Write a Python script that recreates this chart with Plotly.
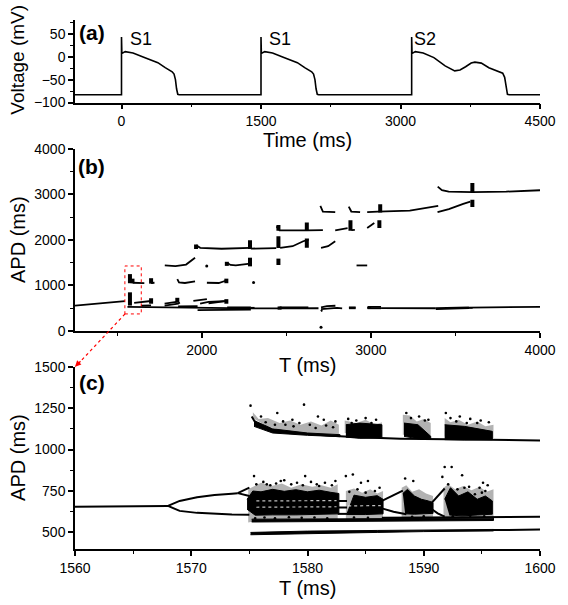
import plotly.graph_objects as go

W, H = 568, 605
ML, MR, MT, MB = 75, 19, 15, 56
PW, PH = W - ML - MR, H - MT - MB
FONT = "Liberation Sans, Arial, sans-serif"

# ---------------- Panel (a): action potential trace ----------------
a_time = [-500, 0, 0, 4, 40, 124, 239, 391, 470, 506, 545, 565, 580, 592, 605, 620,
          1500, 1500, 1504, 1540, 1624, 1739, 1891, 1970, 2006, 2045, 2065, 2080, 2092, 2105, 2120,
          3120, 3120, 3124, 3160, 3244, 3359, 3480, 3583, 3640, 3700, 3760, 3800, 3869, 3950,
          4040, 4099, 4120, 4135, 4150, 4170, 4500]
a_volt = [-83, -83, 43, 7, 11, 8, -1, -13, -24, -28, -33, -38, -50, -70, -82, -83,
          -83, 43, 7, 11, 8, -1, -13, -24, -28, -33, -38, -50, -70, -82, -83,
          -83, 43, 7, 11, 8, -2, -20, -31, -29, -22, -14, -12, -14, -24,
          -31, -36, -45, -70, -82, -83, -83]
a_labels = ["S1", "S1", "S2"]
a_label_t = [205, 1700, 3265]
a_label_v = [39, 39, 39]

# ---------------- Panel (b): APD vs T ----------------
b_seg_T = [
    [1250, 1400, 1545],
    [1560, 1650, 1780, 1860, 1975, 2150, 2290, 2460, 2630, 2690],
    [1640, 1700],
    [1780, 1860, 1870],
    [1860, 1975],
    [1975, 2150, 2290],
    [1990, 2040, 2100, 2150],
    [2150, 2290],
    [2460, 2630],
    [2705, 2740, 2790],
    [2705, 2760, 2800, 2830],
    [2705, 2712],
    [2870, 2910], [2870, 2910],
    [2980, 3060], [2980, 3060],
    [3060, 3384],
    [3384, 3580], [3384, 3580],
    [3580, 4000],
    [1600, 1660, 1700],
    [1780, 1850],
    [1950, 2030],
    [2040, 2130],
    [1590, 1660],
    [1700, 1720],
    [1855, 1865, 1900, 1960],
    [2030, 2100, 2145],
    [1781, 1844, 1907, 1960],
    [2148, 2170, 2201, 2285],
    [2915, 2978],
    [1966, 1991, 2117, 2285],
    [2290, 2440],
    [2463, 2537, 2600, 2632],
    [2705, 2747, 2789],
    [2442, 2460, 2621, 2716],
    [2789, 2862],
    [2885, 2905],
    [2978, 3020],
    [2701, 2716, 2789],
    [2869, 2884, 2936],
    [2978, 3041, 3230, 3398],
    [3394, 3461, 3546, 3588],
    [3395, 3420, 3460, 3600, 3800, 4000],
]
b_seg_APD = [
    [560, 605, 655],
    [530, 525, 510, 505, 500, 500, 498, 497, 497, 500],
    [560, 565],
    [560, 600, 625],
    [540, 545],
    [460, 462, 470],
    [600, 640, 650, 660],
    [520, 520],
    [520, 520],
    [520, 545, 555],
    [480, 500, 510, 500],
    [470, 430],
    [520, 520], [500, 500],
    [530, 530], [500, 500],
    [505, 500],
    [480, 505], [500, 520],
    [515, 530],
    [620, 640, 660],
    [600, 640],
    [660, 700],
    [610, 650],
    [1060, 1050],
    [1055, 1060],
    [1140, 1070, 1055, 1090],
    [1060, 1055, 1110],
    [1440, 1425, 1460, 1610],
    [1500, 1450, 1440, 1480],
    [1440, 1440],
    [1880, 1826, 1806, 1826],
    [1810, 1820],
    [1826, 1862, 1971, 2007],
    [1826, 1862, 1971],
    [2297, 2210, 2210, 2215],
    [2210, 2260],
    [2215, 2220],
    [2261, 2370],
    [2746, 2623, 2609],
    [2732, 2623, 2609],
    [2609, 2623, 2645, 2746],
    [2609, 2674, 2790, 2840],
    [3170, 3090, 3060, 3050, 3060, 3090],
]
b_cl_T = [1575, 1590, 1575, 1700, 1700, 1855, 2145, 2145, 2148, 2285, 2453, 1966, 2285, 2453,
          2621, 2453, 2621, 2879, 3050, 3055, 3600, 3600, 2300, 2460, 2990, 3590]
b_cl_lo = [560, 1050, 1050, 600, 1040, 620, 600, 1050, 1430, 1420, 1450, 1800, 1800, 1820,
           1830, 2200, 2200, 2200, 2260, 2600, 2720, 3050, 490, 470, 490, 490]
b_cl_hi = [850, 1150, 1250, 720, 1160, 730, 700, 1150, 1520, 1610, 1590, 1900, 1990, 2080,
           2030, 2330, 2380, 2430, 2430, 2780, 2880, 3250, 530, 540, 530, 520]
b_dot_T = [2029, 2306, 2705]
b_dot_APD = [1430, 1065, 85]

# ---------------- Panel (c): zoom of bifurcation ----------------
c_seg_T = [
    [1560, 1564, 1568],
    [1568, 1568.5, 1569, 1570.5, 1572, 1573.5, 1574],
    [1574, 1574.5, 1575],
    [1574, 1574.5, 1575],
    [1568, 1568.5, 1569, 1570.5, 1572, 1573.5, 1575],
    [1575.2, 1575.5, 1576, 1577, 1578, 1580, 1582, 1584, 1586, 1588, 1592, 1596, 1600],
    [1586.4, 1587.3, 1588.2],
    [1586.4, 1587.4, 1588.5],
    [1590.7, 1591.2, 1591.8],
    [1590.7, 1591.2, 1591.8],
    [1586.4, 1590, 1596, 1600],
    [1595.9, 1600],
    [1582.6, 1583.4], [1582.6, 1583.4], [1582.6, 1583.4],
]
c_seg_APD = [
    [655, 657, 660],
    [660, 675, 690, 712, 726, 734, 737],
    [737, 752, 770],
    [737, 727, 720],
    [660, 645, 630, 618, 611, 608, 606],
    [1200, 1165, 1140, 1118, 1105, 1092, 1083, 1076, 1070, 1066, 1062, 1060, 1055],
    [690, 720, 752],
    [645, 625, 610],
    [680, 720, 765],
    [640, 615, 595],
    [588, 590, 593, 595],
    [514, 517],
    [690, 690], [650, 650], [612, 612],
]
# light streaks seen inside the dense chaotic band
c_streak_T = [[1575.6, 1582.5], [1575.6, 1582.5], [1583.5, 1586.3]]
c_streak_APD = [[690, 692], [652, 655], [660, 662]]

# dense (solid) parts of the chaotic bands
c_core_T = [
    [1574.8, 1575.3, 1576, 1577, 1578, 1579, 1580, 1581, 1582, 1582.7,
     1582.7, 1581, 1579, 1577, 1575.5, 1574.8],
    [1583.4, 1584, 1585, 1586, 1586.5, 1586.5, 1585, 1584, 1583.4],
    [1588.2, 1588.6, 1589.2, 1589.8, 1590.4, 1590.8, 1590.8, 1590, 1589.2, 1588.4],
    [1591.8, 1592.3, 1593, 1593.8, 1594.6, 1595.3, 1595.9, 1595.9, 1594.6, 1593.3, 1592.2],
    [1575.2, 1580, 1586.5, 1590, 1596, 1596, 1590, 1586.5, 1580, 1575.2],
    [1575.1, 1580, 1586, 1590, 1596, 1596, 1590, 1586, 1580, 1575.1],
    [1575.4, 1577, 1580, 1582.8, 1582.8, 1580, 1577, 1575.4],
    [1583.3, 1584.5, 1586.4, 1586.4, 1584.5, 1583.3],
    [1588.3, 1589.5, 1590.6, 1590.6, 1589.5, 1588.3],
    [1591.8, 1593.5, 1595.9, 1595.9, 1593.5, 1591.8],
]
c_core_APD = [
    [700, 750, 745, 760, 748, 758, 745, 755, 742, 735,
     612, 608, 606, 606, 604, 640],
    [612, 725, 712, 722, 700, 612, 608, 608, 608],
    [735, 760, 720, 700, 690, 680, 615, 612, 610, 612],
    [700, 770, 720, 745, 700, 720, 690, 610, 605, 600, 605],
    [563, 566, 568, 570, 572, 586, 584, 582, 580, 580],
    [486, 494, 500, 505, 509, 518, 516, 512, 508, 500],
    [1175, 1125, 1100, 1090, 1078, 1086, 1100, 1140],
    [1150, 1160, 1150, 1070, 1068, 1075],
    [1160, 1150, 1080, 1065, 1065, 1080],
    [1150, 1140, 1110, 1060, 1058, 1060],
]
# speckled fringe around the dense parts (irregular outlines)
c_fringe_T = [
    [1574.9, 1576, 1577, 1578, 1579, 1580, 1581, 1582.6,
     1582.6, 1582, 1581.2, 1580.4, 1579.5, 1578.6, 1577.8, 1576.9, 1576, 1575.3, 1574.9],
    [1583.3, 1585, 1586.5, 1586.5, 1586, 1585.4, 1584.7, 1584, 1583.3],
    [1588.1, 1589.5, 1590.8, 1590.8, 1590.2, 1589.6, 1589, 1588.5, 1588.1],
    [1591.7, 1593.5, 1596, 1596, 1595.4, 1594.8, 1594.1, 1593.4, 1592.7, 1592.1, 1591.7],
    [1575.3, 1576.5, 1578, 1579.5, 1581, 1582.7, 1582.7, 1582, 1581.2, 1580.3, 1579.4,
     1578.5, 1577.6, 1576.6, 1575.8, 1575.3],
    [1583.2, 1586.4, 1586.4, 1585.8, 1585, 1584.2, 1583.2],
    [1588.2, 1590.6, 1590.6, 1590, 1589.4, 1588.8, 1588.2],
    [1591.8, 1596, 1596, 1595.3, 1594.6, 1593.8, 1593, 1592.3, 1591.8],
]
c_fringe_APD = [
    [560, 575, 568, 574, 569, 572, 568, 575,
     790, 770, 785, 775, 790, 770, 795, 780, 800, 775, 760],
    [572, 575, 578, 750, 735, 760, 740, 765, 750],
    [578, 590, 595, 720, 735, 760, 745, 785, 770],
    [580, 585, 590, 760, 745, 775, 755, 780, 760, 790, 770],
    [1190, 1140, 1110, 1098, 1088, 1082, 1150, 1175, 1145, 1170, 1150,
     1175, 1160, 1190, 1185, 1225],
    [1100, 1085, 1165, 1150, 1180, 1160, 1175],
    [1090, 1082, 1160, 1185, 1170, 1205, 1210],
    [1080, 1070, 1150, 1140, 1170, 1150, 1180, 1165, 1190],
]
c_dot_T = [1575.1, 1579.7, 1577.4, 1580.9, 1581.4, 1582.4, 1588.5, 1591.9, 1592.8, 1593.7,
           1594.6, 1590.4, 1585.5, 1583.8, 1578.7, 1576.0, 1578.1,
           1575.4, 1579.8, 1577.7, 1583.3, 1583.9, 1585.2, 1591.8, 1592.4, 1591.6, 1593.3,
           1595.1, 1588.4, 1589.1, 1593.5, 1594.4, 1595.0, 1595.3, 1576.5, 1581.0, 1584.6,
           1575.6, 1576.2, 1576.8, 1577.3, 1578.0, 1578.6, 1579.1, 1579.6, 1580.3, 1580.8,
           1581.5, 1582.1, 1582.4,
           1575.5, 1576.3, 1577.2, 1578.4, 1579.5, 1580.6, 1581.7, 1584.0, 1585.2, 1589.0,
           1590.0, 1592.5, 1594.0, 1595.2,
           1583.6, 1584.3, 1585.0, 1585.8, 1586.2,
           1592.1, 1592.9, 1593.9, 1594.8, 1595.5, 1592.6, 1593.6, 1594.3, 1595.1, 1595.6,
           1576.4, 1577.2, 1577.9, 1578.8, 1579.3, 1580.2, 1580.7, 1581.6, 1582.2, 1583.5,
           1584.2, 1585.0, 1585.9, 1588.9, 1589.6, 1590.1, 1592.3, 1593.1, 1594.0, 1594.9, 1595.6]
c_dot_APD = [1265, 1271, 1221, 1200, 1180, 1170, 1221, 1221, 1170, 1160,
             1160, 1180, 1160, 1160, 1180, 1200, 1150,
             840, 840, 810, 840, 850, 810, 895, 895, 835, 845,
             800, 825, 810, 770, 730, 740, 750, 790, 780, 800,
             790, 805, 785, 795, 815, 790, 800, 785, 805, 790,
             800, 785, 810,
             585, 590, 585, 592, 588, 590, 586, 590, 588, 595,
             598, 598, 600, 597,
             745, 760, 740, 750, 770,
             790, 760, 775, 770, 785, 650, 640, 660, 630, 650,
             1165, 1150, 1170, 1140, 1160, 1150, 1130, 1145, 1135, 1185,
             1175, 1190, 1180, 1190, 1200, 1175, 1190, 1200, 1185, 1175, 1165]

# ---------------- figure ----------------
fig = go.Figure()
fig.add_trace(go.Scatter(x=a_time, y=a_volt, mode="lines", line=dict(color="black", width=1.6),
                         xaxis="x", yaxis="y", showlegend=False))

for t, v in zip(b_seg_T, b_seg_APD):
    fig.add_trace(go.Scatter(x=t, y=v, mode="lines", line=dict(color="black", width=1.8),
                             xaxis="x2", yaxis="y2", showlegend=False))
for t, lo, hi in zip(b_cl_T, b_cl_lo, b_cl_hi):
    fig.add_trace(go.Scatter(x=[t, t], y=[lo, hi], mode="lines", line=dict(color="black", width=4),
                             xaxis="x2", yaxis="y2", showlegend=False))
fig.add_trace(go.Scatter(x=b_dot_T, y=b_dot_APD, mode="markers", marker=dict(color="black", size=3),
                         xaxis="x2", yaxis="y2", showlegend=False))

for t, v in zip(c_fringe_T, c_fringe_APD):
    fig.add_trace(go.Scatter(x=t, y=v, mode="lines", fill="toself", fillcolor="rgba(0,0,0,0.3)",
                             line=dict(color="rgba(0,0,0,0)", width=0), xaxis="x3", yaxis="y3",
                             showlegend=False))
for t, v in zip(c_core_T, c_core_APD):
    fig.add_trace(go.Scatter(x=t, y=v, mode="lines", fill="toself", fillcolor="black",
                             line=dict(color="black", width=1), xaxis="x3", yaxis="y3", showlegend=False))
for t, v in zip(c_streak_T, c_streak_APD):
    fig.add_trace(go.Scatter(x=t, y=v, mode="lines", line=dict(color="rgba(255,255,255,0.75)", width=1.2, dash="dot"),
                             xaxis="x3", yaxis="y3", showlegend=False))
for t, v in zip(c_seg_T, c_seg_APD):
    fig.add_trace(go.Scatter(x=t, y=v, mode="lines", line=dict(color="black", width=2),
                             xaxis="x3", yaxis="y3", showlegend=False))
fig.add_trace(go.Scatter(x=c_dot_T, y=c_dot_APD, mode="markers", marker=dict(color="black", size=2.6),
                         xaxis="x3", yaxis="y3", showlegend=False))

def py(p):
    return (H - MB - p) / PH

def px(p):
    return (p - ML) / PW

tickfont = dict(family=FONT, size=14, color="black")
axbase = dict(showline=True, linecolor="black", linewidth=1.5, ticks="outside", ticklen=5,
              tickwidth=1.5, tickcolor="black", showgrid=False, zeroline=False,
              tickfont=tickfont, mirror=False)
minor = lambda d: dict(dtick=d, ticks="outside", ticklen=3, tickwidth=1.2, tickcolor="black", showgrid=False)

fig.update_layout(
    width=W, height=H, autosize=False, margin=dict(l=ML, r=MR, t=MT, b=MB),
    paper_bgcolor="white", plot_bgcolor="white",
    xaxis=dict(axbase, range=[-500, 4500], tickvals=[0, 1500, 3000, 4500], minor=minor(750),
               domain=[0, 1], anchor="y"),
    yaxis=dict(axbase, range=[-100, 80], tickvals=[-100, -50, 0, 50], minor=minor(25),
               domain=[py(98.3), 1.0], anchor="x"),
    xaxis2=dict(axbase, range=[1250, 4000], tickvals=[2000, 3000, 4000], minor=minor(500),
                domain=[0, 1], anchor="y2"),
    yaxis2=dict(axbase, range=[0, 4000], tickvals=[0, 1000, 2000, 3000, 4000], minor=minor(500),
                domain=[py(329), py(145)], anchor="x2"),
    xaxis3=dict(axbase, range=[1560, 1600], tickvals=[1560, 1570, 1580, 1590, 1600], minor=minor(5),
                domain=[0, 1], anchor="y3"),
    yaxis3=dict(axbase, range=[400, 1500], tickvals=[500, 750, 1000, 1250, 1500], minor=minor(125),
                domain=[0, py(365)], anchor="x3"),
)

ann = []
def title(text, x, y, size=20, angle=0):
    ann.append(dict(text=text, x=px(x), y=py(y), xref="paper", yref="paper", showarrow=False,
                    font=dict(family=FONT, size=size, color="black"), textangle=angle,
                    xanchor="center", yanchor="middle"))

title("Time (ms)", 312, 136)
title("T (ms)", 312, 363)
title("T (ms)", 312, 588)
title("Voltage (mV)", 17, 55, size=19, angle=-90)
title("APD (ms)", 17, 237, angle=-90)
title("APD (ms)", 17, 457, angle=-90)
title("<b>(a)</b>", 92, 28, size=21)
title("<b>(b)</b>", 92, 163, size=21)
title("<b>(c)</b>", 92, 381, size=21)

for lab, t, v in zip(a_labels, a_label_t, a_label_v):
    ann.append(dict(text=lab, x=t, y=v, xref="x", yref="y", showarrow=False,
                    font=dict(family=FONT, size=18, color="black"), xanchor="center", yanchor="middle"))

ann.append(dict(x=1560, y=1500, xref="x3", yref="y3", ax=7, ay=-7, text="", showarrow=True,
                arrowhead=2, arrowsize=1, arrowwidth=1.2, arrowcolor="red"))
fig.update_layout(annotations=ann)

fig.add_shape(type="rect", xref="x2", yref="y2", x0=1545, x1=1642, y0=376, y1=1428,
              line=dict(color="red", width=1, dash="dot"))
fig.add_shape(type="line", xref="paper", yref="paper", x0=px(126), y0=py(311.7), x1=px(75.5), y1=py(365),
              line=dict(color="red", width=1.2, dash="dot"))

fig.write_html("out.html", config={"displayModeBar": False},
               post_script="document.body.style.margin='0';")
